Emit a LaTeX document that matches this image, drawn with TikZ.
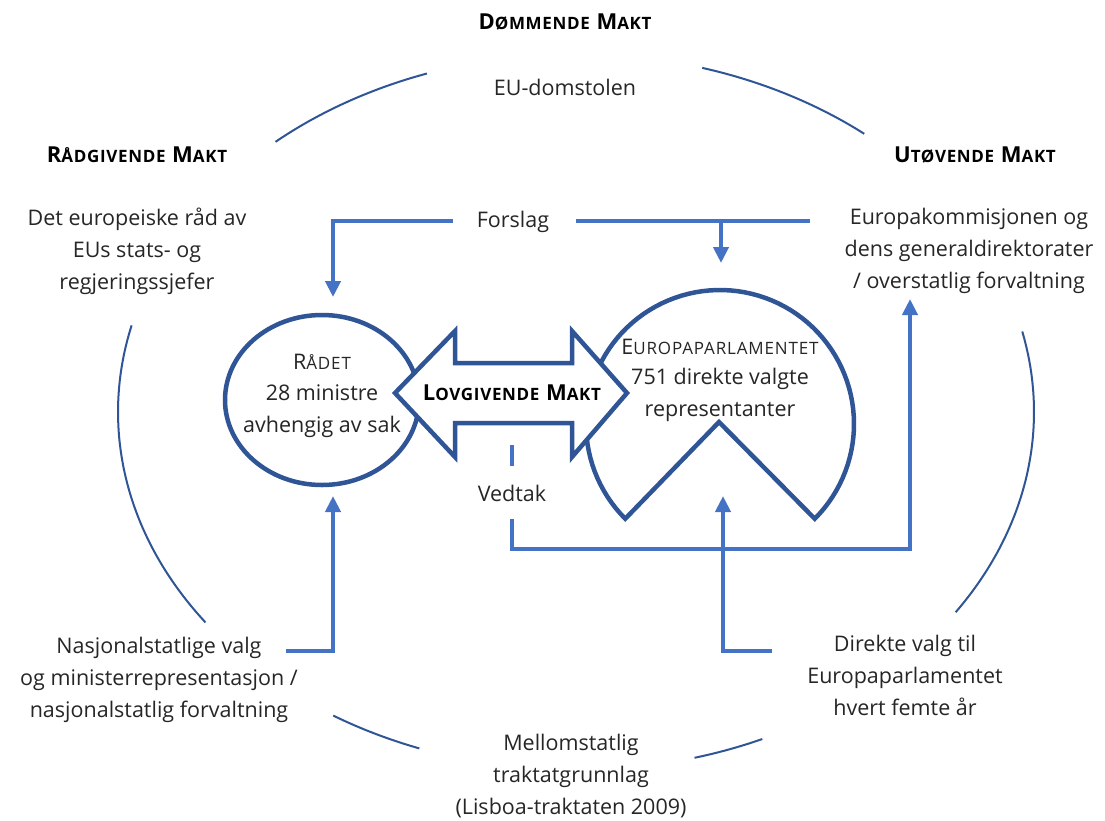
\documentclass[tikz,border=0pt]{standalone}
\usepackage{fontspec}
\setmainfont{Open Sans}
\usetikzlibrary{arrows.meta,shapes.geometric}
\definecolor{dk}{HTML}{2F5597}
\definecolor{lt}{HTML}{4472C4}
\definecolor{tx}{HTML}{262626}
\newcommand\fsc[1]{{\fontsize{17}{17}\selectfont #1}}
\newcommand\tsc[1]{{\fontsize{17}{17}\selectfont\addfontfeature{LetterSpace=5} #1}}
\begin{document}
\begin{tikzpicture}[x=1pt,y=-1pt,
 txt/.style={font=\fontsize{21.5}{32}\selectfont, align=center, text=tx, inner sep=0pt},
 head/.style={font=\fontsize{22}{24}\selectfont\bfseries\addfontfeature{LetterSpace=4}, text=black, inner sep=0pt},
 arcl/.style={draw=dk, line width=2pt},
 conn/.style={draw=lt, line width=4.5pt},
 arr/.style={conn, -{Triangle[length=16pt,width=15pt]}},
 shp/.style={draw=dk, line width=4.5pt, fill=white}
]
\useasboundingbox (0,0) rectangle (1105,820);

% outer ellipse arcs
\foreach \a/\b in {-131/-109, -74/-51, -13/34, 66/75, 110/122, 144/194}
  \draw[arcl] plot[domain=\a:\b, samples=40, smooth] ({576+458*cos(\x)},{412+358*sin(\x)});

% headings
\node[head] (dom) at (565,22) {D\fsc{ØMMENDE} M\fsc{AKT}};
\node[txt] (eud) at (565,87) {EU-domstolen};
\node[head] (rad) at (137,155) {R\fsc{ÅDGIVENDE} M\fsc{AKT}};
\node[head] (uto) at (975,155) {U\fsc{TØVENDE} M\fsc{AKT}};

\node[txt] (erad) at (137,251) {Det europeiske råd av\\EUs stats- og\\regjeringssjefer};
\node[txt] (kom) at (969,251) {Europakommisjonen og\\dens generaldirektorater\\/ overstatlig forvaltning};
\node[txt] (nas) at (159,680) {Nasjonalstatlige valg\\og ministerrepresentasjon /\\nasjonalstatlig forvaltning};
\node[txt] (dir) at (905,675) {Direkte valg til\\Europaparlamentet\\hvert femte år};
\node[txt] (mel) at (571,776) {Mellomstatlig\\traktatgrunnlag\\(Lisboa-traktaten 2009)};

% Council ellipse
\node[shp, ellipse, minimum width=194pt, minimum height=170pt] (raadet) at (322,400) {};

% Parliament pacman
\coordinate (ep) at (720,424);
\draw[shp] (719,422) -- plot[domain=45:-225, samples=90] ({720+134*cos(\x)},{424+134*sin(\x)}) -- cycle;

% double arrow
\draw[shp, line join=miter] (395,393) -- (455,331) -- (455,363) -- (572,363) -- (572,331) -- (627,393)
  -- (572,457) -- (572,423) -- (455,423) -- (455,457) -- cycle;
\node[head] (lov) at (512,393) {L\fsc{OVGIVENDE} M\fsc{AKT}};

\node[txt] at (322,362) {R\tsc{ÅDET}};
\node[txt] (raadtxt) at (322,411) {28 ministre\\avhengig av sak};
\node[txt] at (720,347) {E\tsc{UROPAPARLAMENTET}};
\node[txt] (eptxt) at (720,395) {751 direkte valgte\\representanter};

% Forslag connectors
\node[txt] (fors) at (513,222) {Forslag};
\coordinate (fl) at (333,221);
\coordinate (fr) at (810,221);
\coordinate (fb) at (721,221);
\draw[arr] (453,221) -| (333,297);
\draw[conn] (576,221) -- (fr);
\draw[arr] (fb) -- (721,263);

% Vedtak
\node[txt] (ved) at (512,493) {Vedtak};
\draw[conn] (512,445) -- (512,466);
\draw[arr] (512,519) |- (910,549) -- (910,299);

% Direkte valg
\draw[arr] (772,651) -| (723,496);

% Nasjonal
\draw[arr] (286,651) -| (333,496);
\end{tikzpicture}
\end{document}
